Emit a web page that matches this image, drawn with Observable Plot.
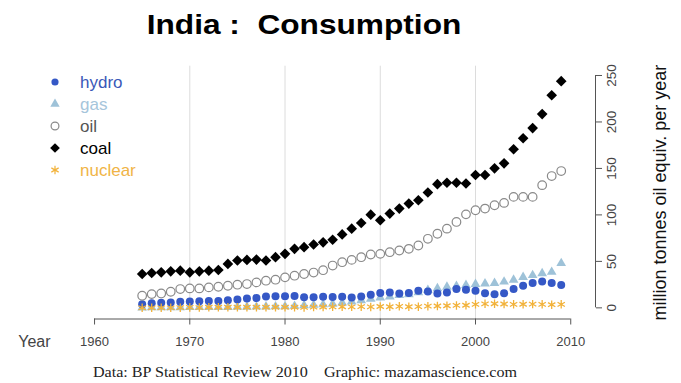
<!DOCTYPE html>
<html>
<head>
<meta charset="utf-8">
<script src="https://cdn.jsdelivr.net/npm/d3@7"></script>
<script src="https://cdn.jsdelivr.net/npm/@observablehq/plot@0.6"></script>
<style>
  body { margin: 0; background: #fff; }
  #wrap { position: relative; width: 681px; height: 383px; overflow: hidden; background: #fff;
          font-family: "Liberation Sans", Arial, Helvetica, sans-serif; }
  #title { position: absolute; left: 304px; top: 11px; font-size: 28px; font-weight: bold; line-height: 28px;
           white-space: pre; transform: translateX(-50%) scaleX(1.13); color: #000; }
  #chart { position: absolute; left: 0; top: 48px; }
  #caption { position: absolute; left: 305px; top: 366px; font-family: "Liberation Serif", "Times New Roman", serif;
             font-size: 14px; line-height: 14px; white-space: pre; transform: translateX(-50%) scaleX(1.15); color: #222; }
  .lg-sym { position: absolute; width: 16px; height: 16px; }
  .lg-txt { position: absolute; font-size: 17px; line-height: 17px; white-space: pre; }
</style>
</head>
<body>
<div id="wrap">
  <div id="title"></div>
  <div id="chart"></div>
  <div id="legend"></div>
  <div id="caption"></div>
</div>
<script>
// ---- data ----
const years = [1965,1966,1967,1968,1969,1970,1971,1972,1973,1974,1975,1976,1977,1978,1979,
               1980,1981,1982,1983,1984,1985,1986,1987,1988,1989,1990,1991,1992,1993,1994,
               1995,1996,1997,1998,1999,2000,2001,2002,2003,2004,2005,2006,2007,2008,2009];
const hydro = [4.0,5.0,5.5,5.8,6.5,6.9,7.2,7.3,7.5,8.3,9.0,10.0,10.5,12.3,12.5,
               12.5,12.8,11.5,11.3,12.0,11.8,12.0,11.2,12.3,14.0,16.0,16.5,15.5,16.0,18.3,
               17.6,15.5,16.6,20.2,19.4,18.3,15.8,14.7,15.8,20.2,23.7,26.6,28.3,26.6,24.5];
const gas = [0.2,0.3,0.3,0.4,0.5,0.6,0.6,0.7,0.7,0.8,0.9,1.0,1.2,1.3,1.4,
             1.5,2.0,2.6,3.0,3.6,4.2,5.5,6.5,8.0,9.5,11.0,12.0,13.5,14.5,16.5,
             19.0,21.0,22.5,23.5,24.5,25.5,26.0,26.5,28.0,30.0,33.0,35.0,37.0,38.5,48.0];
const oil = [13.0,14.8,15.5,17.3,20.2,20.9,20.9,22.0,22.7,23.8,24.9,25.6,27.4,29.2,30.3,
             32.8,34.6,36.4,38.0,40.5,45.5,49.1,51.6,54.5,57.4,58.1,59.9,61.7,63.5,67.1,
             74.3,79.7,85.2,92.4,100.6,105.0,106.8,110.4,112.9,119.4,119.4,119.4,132.0,141.8,147.2];
const coal = [36.4,37.5,38.2,39.3,40.0,38.2,39.3,40.0,40.7,47.3,50.9,51.6,51.9,50.9,54.5,
              58.1,63.5,65.3,68.2,70.5,73.3,79.0,85.2,91.3,100.3,94.2,101.4,106.8,112.2,115.8,
              124.1,133.1,134.6,134.6,133.8,142.9,142.9,150.1,155.5,170.6,182.5,193.4,208.5,228.7,243.9];
const nuclear = [0.0,0.0,0.0,0.0,0.2,0.5,0.3,0.6,0.6,0.6,0.6,0.7,0.7,0.6,0.7,
                 0.7,0.7,0.5,0.8,0.9,1.1,1.2,1.1,1.3,1.0,1.4,1.2,1.6,1.2,1.3,
                 1.8,2.0,2.3,2.6,2.8,3.8,4.3,4.4,4.1,3.8,3.9,4.0,3.8,3.4,3.8];

const seriesNames  = ["hydro", "gas", "oil", "coal", "nuclear"];
const seriesColors = ["#3558c6", "#9ec2d8", "#8a8a8a", "#000000", "#f2b23a"];
const legendTextColors = ["#3a58b8", "#a6c5db", "#555555", "#000000", "#f0b446"];

const xTicks = [1960, 1970, 1980, 1990, 2000, 2010];
const gridYears = [1970, 1980, 1990, 2000];
const yTicks = [0, 50, 100, 150, 200, 250];

const titleText = "India :  Consumption";
const yLabel = "million tonnes oil equiv. per year";
const xLabel = "Year";
const captionText = "Data: BP Statistical Review 2010    Graphic: mazamascience.com";

// ---- build ----
const xDomain = [1958, 2012.6];
const yDomain = [-12, 260];
const rows = vals => years.map((year, i) => ({year, value: vals[i]}));
const col = name => seriesColors[seriesNames.indexOf(name)];

document.getElementById("title").textContent = titleText;
document.getElementById("caption").textContent = captionText;

const chart = Plot.plot({
  width: 681,
  height: 305,
  marginLeft: 75,
  marginRight: 86,
  marginTop: 17.7,
  marginBottom: 34.5,
  x: {domain: xDomain},
  y: {domain: yDomain},
  style: {fontFamily: "'Liberation Sans', Arial, Helvetica, sans-serif", background: "white", color: "#444"},
  marks: [
    Plot.ruleX(gridYears, {stroke: "#dcdcdc", strokeWidth: 1}),
    Plot.ruleY([yDomain[0]], {x1: xTicks[0], x2: xTicks[xTicks.length - 1], stroke: "#555"}),
    Plot.axisX({ticks: xTicks, tickSize: 6, tickPadding: 12, label: null, stroke: "#555",
                fontSize: 13, tickFormat: d => String(d)}),
    Plot.ruleX([xDomain[1]], {y1: yTicks[0], y2: yTicks[yTicks.length - 1], stroke: "#555"}),
    Plot.axisY({anchor: "right", ticks: yTicks, tickSize: 6, tickFormat: () => "", label: null, stroke: "#555"}),
    Plot.text(yTicks, {x: () => xDomain[1], y: d => d, text: d => String(d), rotate: -90, dx: 11,
                       lineAnchor: "top", textAnchor: "middle", fontSize: 13.5, fill: "#444"}),
    Plot.text([yLabel], {frameAnchor: "right", rotate: -90, dx: 65, lineAnchor: "middle",
                         textAnchor: "middle", fontSize: 18, fill: "#111"}),
    Plot.text([xLabel], {frameAnchor: "bottom-left", textAnchor: "end", lineAnchor: "top",
                         dx: -25, dy: 17, fontSize: 16, fill: "#444"}),
    Plot.dot(rows(gas), {x: "year", y: "value", symbol: "triangle", fill: col("gas"), r: 3.6}),
    Plot.dot(rows(hydro), {x: "year", y: "value", symbol: "circle", fill: col("hydro"), r: 4}),
    Plot.dot(rows(nuclear), {x: "year", y: "value", symbol: "asterisk", stroke: col("nuclear"), r: 4, strokeWidth: 1.3}),
    Plot.dot(rows(oil), {x: "year", y: "value", symbol: "circle", stroke: col("oil"), fill: "white", r: 4.3, strokeWidth: 1.2}),
    Plot.dot(rows(coal), {x: "year", y: "value", symbol: "diamond2", fill: col("coal"), r: 4.8})
  ]
});
document.getElementById("chart").appendChild(chart);

// ---- legend (HTML overlay, symbols drawn with d3.symbol) ----
const legend = document.getElementById("legend");
const legendSymbols = [
  {type: d3.symbolCircle, size: 40, fill: true},
  {type: d3.symbolTriangle, size: 38, fill: true},
  {type: d3.symbolCircle, size: 48, fill: false},
  {type: d3.symbolDiamond2, size: 60, fill: true},
  {type: d3.symbolAsterisk, size: 50, fill: false}
];
seriesNames.forEach((name, i) => {
  const cy = 81.5 + i * 22.1;
  const s = legendSymbols[i];
  const svg = d3.create("svg").attr("class", "lg-sym").attr("width", 16).attr("height", 16)
    .style("left", (55 - 8) + "px").style("top", (cy - 8) + "px");
  svg.append("path")
    .attr("transform", "translate(8,8)")
    .attr("d", d3.symbol(s.type, s.size)())
    .attr("fill", s.fill ? seriesColors[i] : "none")
    .attr("stroke", s.fill ? "none" : seriesColors[i])
    .attr("stroke-width", 1.2);
  legend.appendChild(svg.node());
  const t = document.createElement("div");
  t.className = "lg-txt";
  t.textContent = name;
  t.style.left = "80px";
  t.style.top = (cy + 6.5 - 14.4) + "px";
  t.style.color = legendTextColors[i];
  legend.appendChild(t);
});
</script>
</body>
</html>
